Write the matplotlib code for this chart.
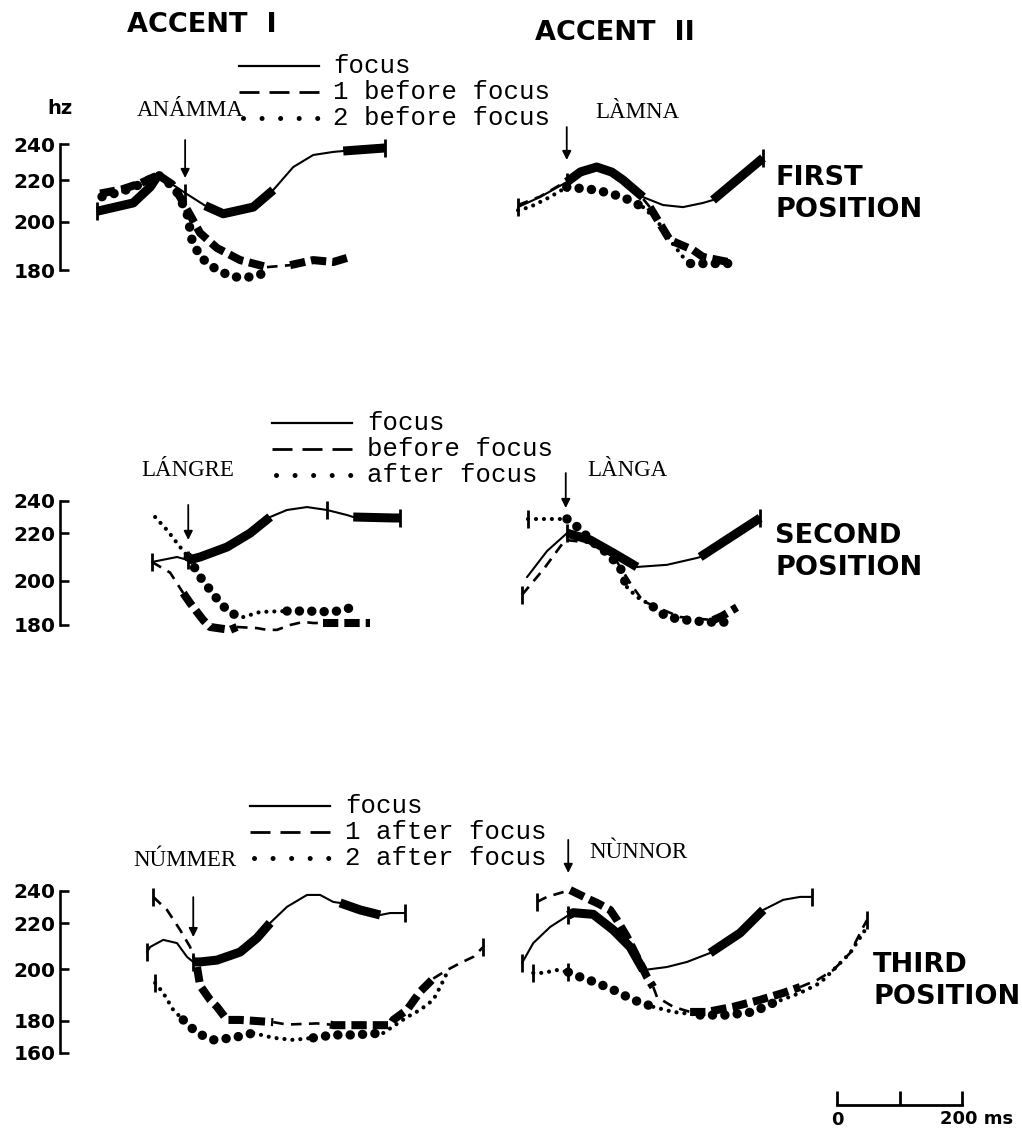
import numpy as np
import matplotlib
matplotlib.use("Agg")
import matplotlib.pyplot as plt
from matplotlib.lines import Line2D
from matplotlib.ticker import NullLocator

# ======================= DATA =======================
col_titles = ["ACCENT  I", "ACCENT  II"]
row_titles = [("FIRST", "POSITION"), ("SECOND", "POSITION"), ("THIRD", "POSITION")]
words = ["ANÁMMA", "LÀMNA", "LÁNGRE", "LÀNGA", "NÚMMER", "NÙNNOR"]
legend_row1 = ["focus", "1 before focus", "2 before focus"]
legend_row2 = ["focus", "before focus", "after focus"]
legend_row3 = ["focus", "1 after focus", "2 after focus"]
yticks_12 = [180, 200, 220, 240]
yticks_3 = [160, 180, 200, 220, 240]
y_unit = "hz"
scalebar_ms = [0, 100, 200]
scalebar_labels = ["0", "200 ms"]

# accent onset (arrow) per panel, ms from contour start, and Hz of arrow tip
arrow_t = [141, 78, 58, 70, 74, 74]
arrow_tip_hz = [221.1, 231.1, 217.2, 235.5, 214.0, 250.9]

# ---- Row 1, Accent I : ANÁMMA ----
r1l_focus_t = [0, 58, 85, 98, 141, 173, 202, 250, 282, 314, 346, 378, 394, 461]
r1l_focus_hz = [205.0, 209.0, 216.6, 222.8, 213.8, 207.7, 203.8, 207.0, 215.2, 227.2, 233.9, 235.6, 236.1, 237.8]
r1l_dash_t = [5, 40, 70, 98, 120, 133, 165, 192, 229, 272, 309, 346, 378, 400]
r1l_dash_hz = [213.5, 215.5, 218.5, 222.8, 218.0, 211.8, 195.3, 189.1, 184.1, 181.2, 182.0, 184.1, 183.3, 185.0]
r1l_dot_t = [8, 40, 70, 98, 125, 144, 152, 165, 192, 218, 250, 272]
r1l_dot_hz = [212.0, 214.5, 218.0, 222.8, 216.0, 204.1, 192.4, 185.4, 180.0, 177.1, 177.1, 179.2]

# ---- Row 1, Accent II : LÀMNA ----
r1r_focus_t = [0, 35, 78, 100, 126, 150, 168, 200, 232, 264, 296, 312, 392]
r1r_focus_hz = [207.0, 211.8, 219.0, 224.5, 227.2, 224.4, 220.0, 211.8, 208.0, 207.0, 209.0, 210.4, 232.2]
r1r_dash_t = [0, 35, 78, 126, 168, 200, 211, 243, 280, 296, 344]
r1r_dash_hz = [208.0, 212.0, 219.5, 226.5, 220.0, 211.0, 207.0, 192.4, 188.3, 185.4, 182.9]
r1r_dot_t = [0, 19, 51, 78, 126, 168, 200, 222, 243, 264, 275, 302, 339]
r1r_dot_hz = [205.5, 207.0, 211.8, 216.6, 215.2, 211.8, 207.0, 200.8, 192.4, 185.4, 182.9, 182.9, 182.9]

# ---- Row 2, Accent I : LÁNGRE ----
r2l_focus_t = [0, 40, 58, 77, 120, 157, 189, 216, 248, 280, 312, 322, 386, 397]
r2l_focus_hz = [207.9, 210.0, 208.7, 210.0, 214.2, 220.1, 230.0, 234.3, 236.1, 234.3, 231.2, 230.0, 229.4, 229.4]
r2l_dash_t = [0, 29, 50, 61, 82, 93, 125, 136, 168, 184, 200, 221, 242, 258, 274, 349]
r2l_dash_hz = [207.9, 203.4, 194.4, 189.9, 182.2, 179.1, 177.8, 179.1, 178.6, 177.8, 177.8, 180.0, 181.4, 180.9, 180.9, 180.9]
r2l_dot_t = [5, 24, 45, 58, 77, 93, 109, 125, 146, 173, 216, 248, 290, 317]
r2l_dot_hz = [230.0, 222.0, 214.2, 210.0, 201.6, 195.8, 190.0, 185.4, 183.6, 185.9, 186.3, 186.3, 185.9, 187.7]

# ---- Row 2, Accent II : LÀNGA ----
r2r_focus_t = [8, 40, 72, 109, 146, 184, 232, 280, 285, 381]
r2r_focus_hz = [201.5, 212.5, 220.1, 217.2, 211.7, 205.8, 206.7, 209.6, 210.0, 229.4]
r2r_dash_t = [0, 35, 69, 109, 146, 173, 189, 200, 226, 253, 306, 320, 344]
r2r_dash_hz = [193.6, 205.0, 217.2, 216.0, 210.5, 199.0, 192.6, 190.0, 186.8, 183.6, 182.2, 184.0, 188.0]
r2r_dot_t = [10, 72, 93, 109, 136, 157, 162, 168, 184, 200, 210, 232, 264, 296, 328]
r2r_dot_hz = [228.8, 228.8, 222.6, 217.2, 211.7, 205.8, 201.6, 197.1, 192.6, 190.0, 188.2, 183.6, 182.2, 181.3, 181.3]

# ---- Row 3, Accent I : NÚMMER ----
r3l_focus_t = [0, 5, 26, 48, 64, 74, 85, 112, 149, 176, 197, 224, 256, 277, 298, 309, 341, 373, 389, 413]
r3l_focus_hz = [207.5, 209.7, 212.8, 211.4, 205.4, 203.2, 203.2, 204.0, 207.5, 213.6, 220.2, 230.1, 237.4, 237.4, 233.1, 232.5, 228.2, 225.1, 226.3, 226.3]
r3l_dash_t = [10, 32, 53, 69, 80, 85, 101, 112, 128, 149, 202, 224, 272, 293, 298, 389, 394, 416, 437, 458, 480, 501, 522, 538]
r3l_dash_hz = [236.2, 228.2, 217.1, 209.7, 201.0, 193.6, 188.1, 185.4, 180.3, 180.3, 179.1, 177.6, 178.3, 177.6, 177.2, 177.2, 180.3, 184.2, 191.3, 196.4, 199.7, 202.7, 205.4, 209.7]
r3l_dot_t = [13, 26, 42, 58, 80, 106, 138, 170, 202, 234, 266, 298, 330, 378, 416, 437, 458, 469, 480]
r3l_dot_hz = [194.7, 190.8, 184.2, 180.3, 172.3, 168.0, 169.3, 172.3, 169.3, 168.0, 169.3, 171.1, 171.1, 172.3, 181.4, 184.2, 188.1, 193.1, 198.6]

# ---- Row 3, Accent II : NÙNNOR ----
r3r_focus_t = [0, 18, 45, 74, 82, 114, 146, 173, 194, 232, 264, 301, 349, 386, 418, 445, 464]
r3r_focus_hz = [202.7, 211.4, 218.4, 224.9, 226.5, 225.5, 217.1, 209.7, 199.7, 201.0, 203.2, 207.1, 215.8, 228.2, 234.4, 236.2, 236.2]
r3r_dash_t = [24, 40, 61, 77, 109, 120, 141, 152, 168, 200, 210, 216, 242, 269, 296, 338, 381, 418, 445, 472, 498, 525, 546, 552]
r3r_dash_hz = [233.1, 236.2, 238.6, 240.4, 234.4, 232.5, 228.2, 222.0, 214.1, 197.0, 193.1, 189.2, 185.4, 183.4, 183.4, 185.4, 188.1, 190.8, 193.1, 195.8, 199.7, 207.1, 218.4, 222.0]
r3r_dot_t = [18, 34, 56, 74, 93, 120, 146, 178, 210, 242, 285, 328, 370, 402, 445, 477, 498, 525, 552]
r3r_dot_hz = [198.6, 198.6, 199.7, 198.9, 197.0, 194.7, 192.0, 188.1, 185.4, 183.4, 182.2, 182.2, 183.4, 186.9, 190.8, 194.7, 199.7, 207.1, 218.4]

# ======================= STYLE / LAYOUT =======================
W, H = 1022, 1130
PX_PER_MS = 0.625
PT = 72.0 / 100.0          # points per pixel

# hand-drawn frequency axes: pixel rows of the tick marks
row_tick_px = [[270, 221.7, 180, 144],
               [625, 580.7, 533.3, 500.7],
               [1052.7, 1020.7, 969.3, 923.3, 890.7]]
row_ticks = [yticks_12, yticks_12, yticks_3]
row_ylim = [(165, 252), (165, 252), (150, 258)]
t0_px = [97, 518, 152, 522, 147, 522]     # pixel column where each panel's time 0 sits
arrow_len_px = [38, 33, 35, 35, 40, 33]

# thick parts / weight of each contour (index slices)
r1l_focus_thick = [(0, 4), (5, 9), (12, 14)]
r1l_dash_segs = [(0, 10, "thick"), (9, 11, "thin"), (10, 14, "thick")]
r1l_dot_segs = [(0, 12, "big")]
r1r_focus_thick = [(2, 8), (11, 13)]
r1r_dash_segs = [(0, 7, "thin"), (6, 11, "thick")]
r1r_dot_segs = [(0, 4, "small"), (3, 7, "big"), (6, 11, "small"), (10, 13, "big")]
r2l_focus_thick = [(2, 7), (11, 14)]
r2l_dash_segs = [(0, 3, "thin"), (2, 8, "thick"), (7, 15, "thin"), (14, 16, "thick")]
r2l_dot_segs = [(0, 4, "small"), (3, 9, "big"), (8, 11, "small"), (10, 14, "big")]
r2r_focus_thick = [(2, 6), (8, 10)]
r2r_dash_segs = [(0, 11, "thin"), (10, 13, "thick")]
r2r_dot_segs = [(0, 2, "small"), (1, 8, "big"), (7, 11, "small"), (10, 15, "big")]
r3l_focus_thick = [(5, 11), (15, 18)]
r3l_dash_segs = [(0, 5, "thin"), (4, 11, "thick"), (10, 14, "thin"), (13, 20, "thick"), (19, 24, "thin")]
r3l_dot_segs = [(0, 4, "small"), (3, 8, "big"), (7, 11, "small"), (10, 14, "big"), (13, 19, "small")]
r3r_focus_thick = [(3, 9), (11, 14)]
r3r_dash_segs = [(0, 4, "thin"), (3, 11, "thick"), (10, 14, "thin"), (13, 19, "thick"), (18, 24, "thin")]
r3r_dot_segs = [(0, 4, "small"), (3, 9, "big"), (8, 11, "small"), (10, 14, "big"), (13, 19, "small")]

# end/onset tick marks (indices)
r1l_ticks = ([0, 13, 4], [], [])
r1r_ticks = ([0, 12, 2], [], [])
r2l_ticks = ([0, 13, 9, 2], [], [])
r2r_ticks = ([9, 2], [0], [0])
r3l_ticks = ([0, 19, 5], [0, 23], [0])
r3r_ticks = ([0, 16, 3], [0, 23], [0, 3])

STY = {
    ("dash", "thin"): dict(ls=(0, (4.0, 2.8)), lw=1.9, dash_capstyle="butt"),
    ("dash", "thick"): dict(ls=(0, (1.9, 0.75)), lw=5.8, dash_capstyle="butt"),
    ("dot", "small"): dict(ls=(0, (0.01, 1.9)), lw=3.0, dash_capstyle="round"),
    ("dot", "big"): dict(ls=(0, (0.01, 1.3)), lw=6.8, dash_capstyle="round"),
}
FOCUS_THIN, FOCUS_THICK = 1.5, 6.5

SANS = "DejaVu Sans"
SERIF = "Liberation Serif"
MONO = "Liberation Mono"

fig = plt.figure(figsize=(W / 100, H / 100), dpi=100)
fig.patch.set_facecolor("white")


def fx(x):
    return x / W


def fy(y):
    return 1 - y / H


def make_maps(ticks, px):
    hz = np.array(ticks, float)
    p = np.array(px, float)
    lo = (p[0] - p[1]) / (hz[1] - hz[0])
    hi = (p[-2] - p[-1]) / (hz[-1] - hz[-2])
    hz_e = np.concatenate([[hz[0] - 200], hz, [hz[-1] + 200]])
    p_e = np.concatenate([[p[0] + 200 * lo], p, [p[-1] - 200 * hi]])

    def fwd(v, hz_e=hz_e, p_e=p_e):
        return -np.interp(v, hz_e, p_e)

    def inv(v, hz_e=hz_e, p_e=p_e):
        return np.interp(v, -p_e, hz_e)

    def pix(v, hz_e=hz_e, p_e=p_e):
        return float(np.interp(v, hz_e, p_e))

    return fwd, inv, pix


maps = [make_maps(row_ticks[r], row_tick_px[r]) for r in range(3)]


def panel_axes(row, col):
    fwd, inv, pix = maps[row]
    lo, hi = row_ylim[row]
    top, bot = pix(hi), pix(lo)
    xl, xr = (60, 520) if col == 0 else (500, 1000)
    ax = fig.add_axes([fx(xl), fy(bot), (xr - xl) / W, (bot - top) / H])
    ax.set_yscale("function", functions=(fwd, inv))
    t0 = t0_px[row * 2 + col]
    ax.set_xlim((xl - t0) / PX_PER_MS, (xr - t0) / PX_PER_MS)
    ax.set_ylim(lo, hi)
    ax.set_autoscale_on(False)
    ax.patch.set_alpha(0)
    if col == 0:
        for s in ["top", "right", "bottom"]:
            ax.spines[s].set_visible(False)
        ticks = row_ticks[row]
        ax.spines["left"].set_bounds(ticks[0], ticks[-1])
        ax.spines["left"].set_linewidth(2.6 * PT)
        ax.set_yticks(ticks)
        ax.set_yticklabels([str(v) for v in ticks], fontfamily=SANS,
                           fontweight="bold", fontsize=14.5)
        ax.yaxis.set_minor_locator(NullLocator())
        ax.tick_params(axis="y", direction="in", length=9 * PT, width=2.6 * PT, pad=3)
        ax.set_xticks([])
    else:
        ax.axis("off")
    return ax


def draw_contours(ax, focus, dash, dot, ticks):
    (ft, fh, fthick), (dt, dh, dsegs), (pt_, ph, psegs) = focus, dash, dot
    ft, fh = np.asarray(ft, float), np.asarray(fh, float)
    ax.plot(ft, fh, color="k", lw=FOCUS_THIN, solid_capstyle="round", clip_on=False)
    for a, b in fthick:
        ax.plot(ft[a:b], fh[a:b], color="k", lw=FOCUS_THICK, solid_capstyle="butt",
                solid_joinstyle="round", clip_on=False)
    for kind, (tt, hh, segs) in (("dash", (dt, dh, dsegs)), ("dot", (pt_, ph, psegs))):
        tt, hh = np.asarray(tt, float), np.asarray(hh, float)
        for a, b, w in segs:
            ax.plot(tt[a:b], hh[a:b], color="k", clip_on=False, **STY[(kind, w)])
    for (tt, hh), idx in zip(((ft, fh), (dt, dh), (pt_, ph)), ticks):
        for i in idx:
            ax.plot(tt[i], hh[i], marker="|", ms=13, mew=2.0, color="k", clip_on=False)


panels = [
    ((r1l_focus_t, r1l_focus_hz, r1l_focus_thick), (r1l_dash_t, r1l_dash_hz, r1l_dash_segs),
     (r1l_dot_t, r1l_dot_hz, r1l_dot_segs), r1l_ticks),
    ((r1r_focus_t, r1r_focus_hz, r1r_focus_thick), (r1r_dash_t, r1r_dash_hz, r1r_dash_segs),
     (r1r_dot_t, r1r_dot_hz, r1r_dot_segs), r1r_ticks),
    ((r2l_focus_t, r2l_focus_hz, r2l_focus_thick), (r2l_dash_t, r2l_dash_hz, r2l_dash_segs),
     (r2l_dot_t, r2l_dot_hz, r2l_dot_segs), r2l_ticks),
    ((r2r_focus_t, r2r_focus_hz, r2r_focus_thick), (r2r_dash_t, r2r_dash_hz, r2r_dash_segs),
     (r2r_dot_t, r2r_dot_hz, r2r_dot_segs), r2r_ticks),
    ((r3l_focus_t, r3l_focus_hz, r3l_focus_thick), (r3l_dash_t, r3l_dash_hz, r3l_dash_segs),
     (r3l_dot_t, r3l_dot_hz, r3l_dot_segs), r3l_ticks),
    ((r3r_focus_t, r3r_focus_hz, r3r_focus_thick), (r3r_dash_t, r3r_dash_hz, r3r_dash_segs),
     (r3r_dot_t, r3r_dot_hz, r3r_dot_segs), r3r_ticks),
]

for k, (foc, das, dot, tks) in enumerate(panels):
    row, col = divmod(k, 2)
    ax = panel_axes(row, col)
    draw_contours(ax, foc, das, dot, tks)
    ax.annotate("", xy=(arrow_t[k], arrow_tip_hz[k]), xytext=(0, arrow_len_px[k] * PT),
                textcoords="offset points",
                arrowprops=dict(arrowstyle="-|>", lw=1.3, color="k", mutation_scale=13,
                                shrinkA=0, shrinkB=0))

# ---- texts ----
fig.text(fx(202), fy(25), col_titles[0], fontfamily=SANS, fontweight="bold", fontsize=19.5,
         ha="center", va="center")
fig.text(fx(615), fy(33), col_titles[1], fontfamily=SANS, fontweight="bold", fontsize=19.5,
         ha="center", va="center")
fig.text(fx(60), fy(108), y_unit, fontfamily=SANS, fontweight="bold", fontsize=14,
         ha="center", va="center")

title_xy = [(775, 178, 210), (775, 536, 568), (873, 965, 997)]
for (x, y1, y2), (a, b) in zip(title_xy, row_titles):
    fig.text(fx(x), fy(y1), a, fontfamily=SANS, fontweight="bold", fontsize=19.5, ha="left", va="center")
    fig.text(fx(x), fy(y2), b, fontfamily=SANS, fontweight="bold", fontsize=19.5, ha="left", va="center")

word_xy = [(190, 110), (637, 113), (188, 470), (627, 470), (185, 860), (638, 853)]
for (x, y), w in zip(word_xy, words):
    fig.text(fx(x), fy(y), w, fontfamily=SERIF, fontsize=16.5, ha="center", va="center")

# ---- legends (drawn keys) ----
leg_layout = [(239, 319, [66, 92, 118], 333, legend_row1),
              (272, 352, [423, 449, 475], 367, legend_row2),
              (250, 330, [806, 832, 858], 345, legend_row3)]
leg_styles = [dict(ls="-", lw=1.6),
              dict(ls=(0, (7.2, 3.6)), lw=2.0),
              dict(ls=(0, (0.01, 3.7)), lw=3.6, dash_capstyle="round")]
for x0, x1, ys, xt, labels in leg_layout:
    for y, st, lab in zip(ys, leg_styles, labels):
        xs = [fx(x0), fx(x1)] if st["ls"] != leg_styles[2]["ls"] else [fx(x0 + 4), fx(x1)]
        fig.add_artist(Line2D(xs, [fy(y), fy(y)], transform=fig.transFigure,
                              color="k", **st))
        fig.text(fx(xt), fy(y), lab, fontfamily=MONO, fontsize=18.5, ha="left", va="center")

# ---- time scale bar ----
sb = fig.add_axes([fx(837), fy(1110), 125 / W, 25 / H])
sb.set_xlim(scalebar_ms[0], scalebar_ms[-1])
sb.set_ylim(0, 1)
sb.axis("off")
sb.plot([scalebar_ms[0], scalebar_ms[-1]], [0.2, 0.2], color="k", lw=2.0, clip_on=False)
sb.vlines(scalebar_ms, 0.2, 0.78, color="k", lw=2.0, clip_on=False)
fig.text(fx(837), fy(1120), scalebar_labels[0], fontfamily=SANS, fontweight="bold",
         fontsize=13, ha="center", va="center")
fig.text(fx(940), fy(1119), scalebar_labels[1], fontfamily=SANS, fontweight="bold",
         fontsize=13, ha="left", va="center")

fig.savefig("out.png", dpi=100, facecolor="white")
